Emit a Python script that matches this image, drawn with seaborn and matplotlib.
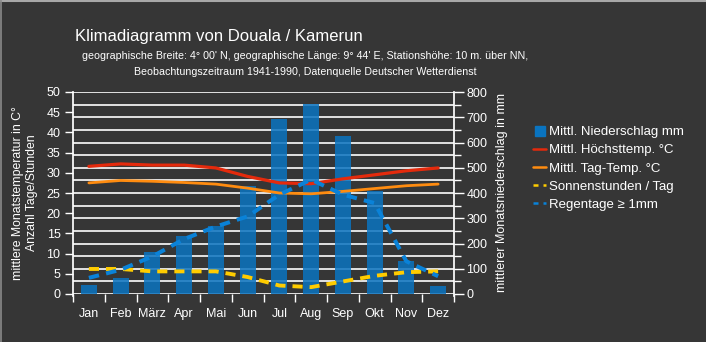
import numpy as np
import pandas as pd
import matplotlib
matplotlib.use("Agg")
import matplotlib.pyplot as plt
import seaborn as sns
from matplotlib.ticker import MultipleLocator, FixedLocator
from matplotlib.lines import Line2D

months = ["Jan", "Feb", "März", "Apr", "Mai", "Jun", "Jul", "Aug", "Sep", "Okt", "Nov", "Dez"]
niederschlag = [36, 63, 166, 230, 269, 428, 693, 753, 624, 406, 129, 30]
hoechsttemp = [31.6, 32.2, 31.9, 31.9, 31.2, 29.1, 27.5, 27.3, 28.5, 29.5, 30.5, 31.2]
tagtemp = [27.5, 28.1, 27.9, 27.6, 27.2, 26.2, 25.0, 24.8, 25.4, 26.1, 26.8, 27.2]
sonnenstunden = [6.2, 6.2, 5.6, 5.6, 5.6, 4.2, 2.1, 1.7, 3.1, 4.5, 5.4, 5.6]
regentage = [4.0, 6.0, 9.3, 13.6, 16.7, 19.2, 24.6, 28.3, 24.6, 22.5, 8.1, 4.4]

labels = ["Mittl. Niederschlag mm", "Mittl. Höchsttemp. °C", "Mittl. Tag-Temp. °C",
          "Sonnenstunden / Tag", "Regentage ≥ 1mm"]

BG = "#363636"
FG = "white"
C_BAR = "#0a74c0"
C_RED = "#e42a0c"
C_ORA = "#ff8c10"
C_YEL = "#ffcc00"
C_BLU = "#0a82d8"

sns.set_theme(style="dark")
plt.rcParams["font.family"] = ["Liberation Sans", "DejaVu Sans"]

pos = np.arange(len(months))
df = pd.DataFrame({"pos": pos, "month": months, "prec": niederschlag, "tmax": hoechsttemp,
                   "tday": tagtemp, "sun": sonnenstunden, "rain": regentage})

fig = plt.figure(figsize=(7.06, 3.42), dpi=100, facecolor=BG)
ax = fig.add_axes([73/706, 1-294/342, (454-73)/706, (294-92)/342])
ax2 = ax.twinx()

ax2.set_zorder(1)
ax.set_zorder(2)
ax.patch.set_visible(False)
ax2.set_facecolor(BG)
ax2.patch.set_visible(True)

sns.barplot(data=df, x="pos", y="prec", native_scale=True, ax=ax2, color=C_BAR,
            width=0.5, alpha=0.85, saturation=1, edgecolor="none", zorder=3)

sns.lineplot(data=df, x="pos", y="tmax", ax=ax, color=C_RED, linewidth=2.3)
sns.lineplot(data=df, x="pos", y="tday", ax=ax, color=C_ORA, linewidth=2.0)
sns.lineplot(data=df, x="pos", y="sun", ax=ax, color=C_YEL, linewidth=2.8)
sns.lineplot(data=df, x="pos", y="rain", ax=ax, color=C_BLU, linewidth=2.9)
ax.lines[2].set_dashes((2.6, 1.8))
ax.lines[3].set_dashes((2.6, 1.8))

ax.set_xlim(-0.5, len(months) - 0.5)
ax.set_ylim(0, 50)
ax2.set_ylim(0, 800)

for a in (ax, ax2):
    for s in a.spines.values():
        s.set_visible(False)
    a.tick_params(colors=FG, labelcolor=FG, labelsize=9)

ax.spines["left"].set_visible(True)
ax.spines["left"].set_color(FG)
ax.spines["left"].set_bounds(-0.6, 50)
ax2.spines["right"].set_visible(True)
ax2.spines["right"].set_color(FG)
ax2.spines["right"].set_bounds(-9, 800)

ax.yaxis.set_major_locator(MultipleLocator(5))
ax.tick_params(axis="y", which="major", length=6, width=1, pad=3, left=True)
ax2.yaxis.set_major_locator(MultipleLocator(100))
ax2.yaxis.set_minor_locator(MultipleLocator(50))
ax2.tick_params(axis="y", which="major", length=7, width=1, pad=2, right=True)
ax2.tick_params(axis="y", which="minor", length=5, width=1, right=True, color=FG)
ax2.grid(True, which="both", axis="y", color="white", linewidth=1.2, zorder=0)
ax2.set_axisbelow(True)
ax.grid(False)

ax.set_xticks(pos)
ax.set_xticklabels(months)
ax.xaxis.set_minor_locator(FixedLocator(np.arange(-0.5, len(months), 1.0)))
ax.tick_params(axis="x", which="major", length=0, pad=10, labelsize=9)
ax.tick_params(axis="x", which="minor", length=6, width=1, color=FG, bottom=True, direction="out")
ax2.tick_params(axis="x", bottom=False, labelbottom=False)

ax.set_xlabel("")
ax2.set_xlabel("")
ax.set_ylabel("mittlere Monatstemperatur in C°\nAnzahl Tage/Stunden", color=FG, fontsize=8.8, labelpad=6, linespacing=1.25)
ax2.set_ylabel("mittlerer Monatsniederschlag in mm", color=FG, fontsize=9, labelpad=6)

fig.text(75/706, 1-36/342, "Klimadiagramm von Douala / Kamerun", color=FG, fontsize=12, va="center", ha="left")
fig.text(305/706, 1-56/342, "geographische Breite: 4° 00' N, geographische Länge: 9° 44' E, Stationshöhe: 10 m. über NN,",
         color=FG, fontsize=7.7, ha="center", va="center")
fig.text(305/706, 1-72/342, "Beobachtungszeitraum 1941-1990, Datenquelle Deutscher Wetterdienst",
         color=FG, fontsize=7.7, ha="center", va="center")

handles = [
    Line2D([], [], marker="s", linestyle="none", color=C_BAR, markersize=7),
    Line2D([], [], color=C_RED, linewidth=1.8),
    Line2D([], [], color=C_ORA, linewidth=1.8),
    Line2D([], [], color=C_YEL, linewidth=1.8, dashes=(2, 2)),
    Line2D([], [], color=C_BLU, linewidth=1.8, dashes=(2, 2)),
]
leg = fig.legend(handles, labels, loc="upper left", bbox_to_anchor=(533/706, 1-126/342),
                 frameon=False, fontsize=9.5, handlelength=1.0, handletextpad=0.25,
                 labelspacing=0.45, borderaxespad=0, borderpad=0)
for t in leg.get_texts():
    t.set_color(FG)

fig.add_artist(Line2D([0, 1], [1-0.5/342, 1-0.5/342], transform=fig.transFigure, color="#a8a8a8", linewidth=1.5))
fig.add_artist(Line2D([0.5/706, 0.5/706], [0, 1], transform=fig.transFigure, color="#8a8a8a", linewidth=1.2))

fig.savefig("out.png", dpi=100, facecolor=BG)
